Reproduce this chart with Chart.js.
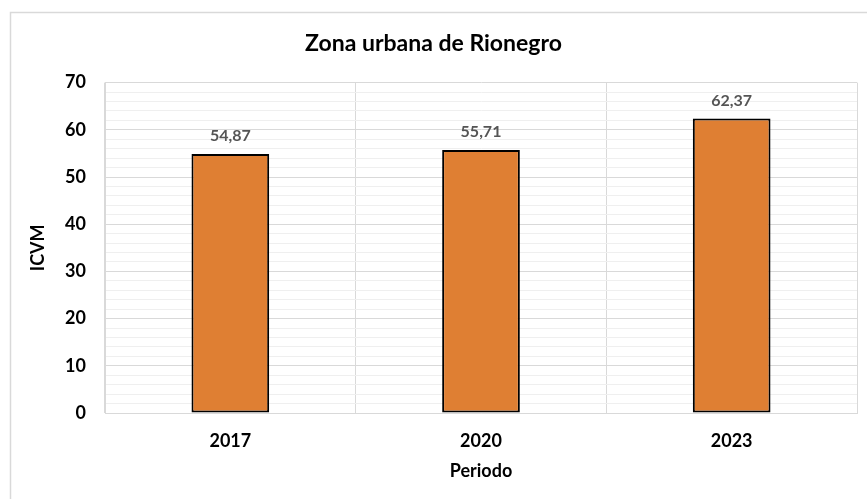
<!DOCTYPE html>
<html>
<head>
<meta charset="utf-8">
<script src="https://cdn.jsdelivr.net/npm/chart.js@4"></script>
<style>
  html, body { margin: 0; padding: 0; background: #ffffff; }
  #wrap { width: 867px; height: 499px; }
</style>
</head>
<body>
<div id="wrap"><canvas id="icvmChart" width="867" height="499"></canvas></div>
<script>
// Datos del grafico
const periodos = ['2017', '2020', '2023'];
const valoresICVM = [54.87, 55.71, 62.37];
const ejeY = { min: 0, max: 70, paso: 2, pasoMayor: 10 };

const FUENTE = "Lato, 'Open Sans', 'Liberation Sans', sans-serif";

// Marco exterior gris (solo borde izquierdo y superior visibles)
const marcoExterior = {
    id: 'marcoExterior',
    beforeDraw(chart) {
        const ctx = chart.ctx;
        ctx.save();
        ctx.strokeStyle = '#d9d9d9';
        ctx.lineWidth = 1.5;
        ctx.beginPath();
        ctx.moveTo(10.5, chart.height);
        ctx.lineTo(10.5, 12.5);
        ctx.lineTo(chart.width, 12.5);
        ctx.stroke();
        ctx.restore();
    }
};

// Etiquetas de valor encima de cada barra
const etiquetasValor = {
    id: 'etiquetasValor',
    afterDatasetsDraw(chart) {
        const ctx = chart.ctx;
        const meta = chart.getDatasetMeta(0);
        ctx.save();
        ctx.font = 'bold 16px ' + FUENTE;
        ctx.fillStyle = '#555555';
        ctx.textAlign = 'center';
        ctx.textBaseline = 'middle';
        meta.data.forEach((bar, i) => {
            const v = chart.data.datasets[0].data[i];
            ctx.fillText(v.toFixed(2).replace('.', ','), bar.x, bar.y - 18);
        });
        ctx.restore();
    }
};

new Chart(document.getElementById('icvmChart'), {
    type: 'bar',
    data: {
        labels: periodos,
        datasets: [{
            label: 'ICVM',
            data: valoresICVM,
            backgroundColor: '#df7f33',
            borderColor: '#000000',
            borderWidth: 2,
            borderSkipped: false,
            categoryPercentage: 1,
            barPercentage: 0.31
        }]
    },
    options: {
        responsive: false,
        animation: false,
        layout: { padding: { left: 10, right: 10, top: 0, bottom: 0 } },
        plugins: {
            legend: { display: false },
            tooltip: { enabled: false },
            title: {
                display: true,
                text: 'Zona urbana de Rionegro',
                color: '#000000',
                font: { family: FUENTE, size: 23, weight: 'bold' },
                padding: { top: 30, bottom: 25 }
            }
        },
        scales: {
            x: {
                grid: { color: '#d9d9d9', drawTicks: false, offset: true },
                border: { color: '#d9d9d9' },
                ticks: {
                    color: '#000000',
                    padding: 17,
                    font: { family: FUENTE, size: 18, weight: 'bold' }
                },
                title: {
                    display: true,
                    text: 'Periodo',
                    color: '#000000',
                    font: { family: FUENTE, size: 18, weight: 'bold' },
                    padding: { top: 8, bottom: 17 }
                },
                afterFit(scale) { scale.height = 86; }
            },
            y: {
                min: ejeY.min,
                max: ejeY.max,
                grid: {
                    drawTicks: false,
                    color: (c) => (c.tick && c.tick.value % ejeY.pasoMayor === 0) ? '#d9d9d9' : '#efefef'
                },
                border: { color: '#d9d9d9' },
                ticks: {
                    stepSize: ejeY.paso,
                    autoSkip: false,
                    color: '#000000',
                    padding: 19,
                    font: { family: FUENTE, size: 18, weight: 'bold' },
                    callback: (v) => (v % ejeY.pasoMayor === 0 ? v : '')
                },
                title: {
                    display: true,
                    text: 'ICVM',
                    color: '#000000',
                    font: { family: FUENTE, size: 18, weight: 'bold' },
                    padding: { top: 17, bottom: 0 }
                },
                afterFit(scale) { scale.width = 95; }
            }
        }
    },
    plugins: [marcoExterior, etiquetasValor]
});
</script>
</body>
</html>
